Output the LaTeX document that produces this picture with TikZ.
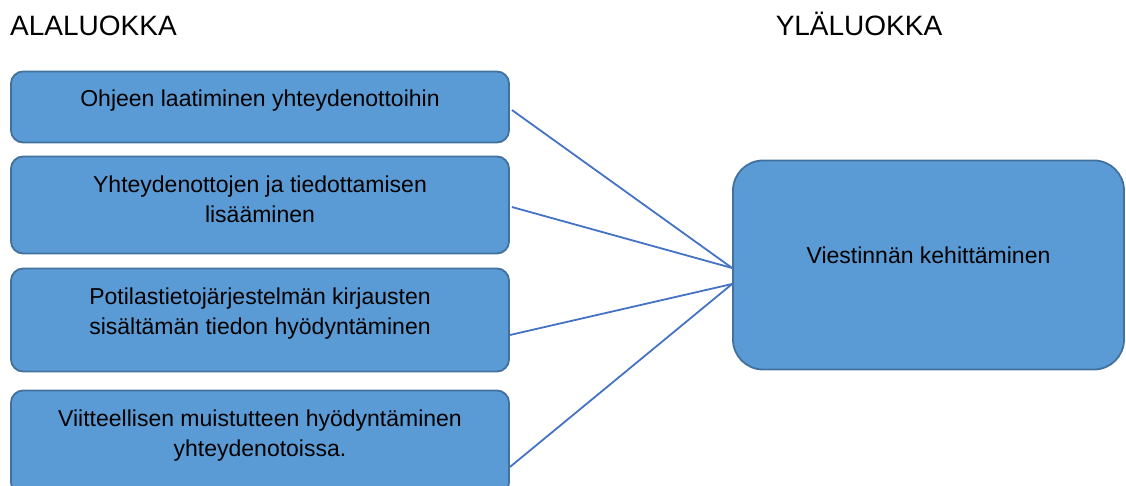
\documentclass[tikz,border=0pt]{standalone}
\usepackage{fontspec}
\setmainfont{Liberation Sans}
\usepackage{tikz}
\definecolor{boxfill}{HTML}{5B9BD5}
\definecolor{boxdraw}{HTML}{41719C}
\definecolor{linkblue}{HTML}{4472C4}

\begin{document}
\begin{tikzpicture}[x=1pt,y=-1pt,
  heading/.style={inner sep=0pt,font=\fontsize{28}{34}\selectfont},
  lowbox/.style={rectangle,rounded corners=12pt,fill=boxfill,draw=boxdraw,line width=1.8pt,minimum width=498pt,inner sep=0pt},
  topbox/.style={rectangle,rounded corners=30pt,fill=boxfill,draw=boxdraw,line width=1.8pt,minimum width=391pt,minimum height=209pt,inner sep=0pt},
  boxtext/.style={align=center,inner sep=0pt,text=black,font=\fontsize{23}{29.5}\selectfont},
  link/.style={draw=linkblue,line width=1.8pt}]
\useasboundingbox (0,0) rectangle (1126,486);
% otsikot
\node[heading,anchor=base west] (ala) at (10,36) {ALALUOKKA};
\node[heading,anchor=base] (yla) at (859,36) {YLÄLUOKKA};
% alaluokat
\node[lowbox,minimum height=71pt,label={[boxtext,name=t1,yshift=6pt]center:Ohjeen laatiminen yhteydenottoihin}] (b1) at (260,107) {};
\node[lowbox,minimum height=97pt,label={[boxtext,name=t2,yshift=5.5pt]center:{Yhteydenottojen ja tiedottamisen\\lisääminen}}] (b2) at (260,205) {};
\node[lowbox,minimum height=103pt,label={[boxtext,name=t3,yshift=6.5pt]center:{Potilastietojärjestelmän kirjausten\\sisältämän tiedon hyödyntäminen}}] (b3) at (260,320) {};
\node[lowbox,minimum height=104pt,label={[boxtext,name=t4,yshift=7pt]center:{Viitteellisen muistutteen hyödyntäminen\\yhteydenotoissa.}}] (b4) at (260,442.5) {};
% yläluokka
\node[topbox,label={[boxtext,name=t5,yshift=9.5pt]center:Viestinnän kehittäminen}] (main) at (928.5,265) {};
% yhteydet
\draw[link] ([xshift=2pt,yshift=-3pt]b1.east) -- ([yshift=-3pt]main.west);
\draw[link] ([xshift=2pt,yshift=-2pt]b2.east) -- ([yshift=-3pt]main.west);
\draw[link] ([yshift=-15pt]b3.east) -- ([yshift=-19pt]main.west);
\draw[link] ([yshift=-24.5pt]b4.east) -- ([yshift=-19pt]main.west);
\end{tikzpicture}
\end{document}
